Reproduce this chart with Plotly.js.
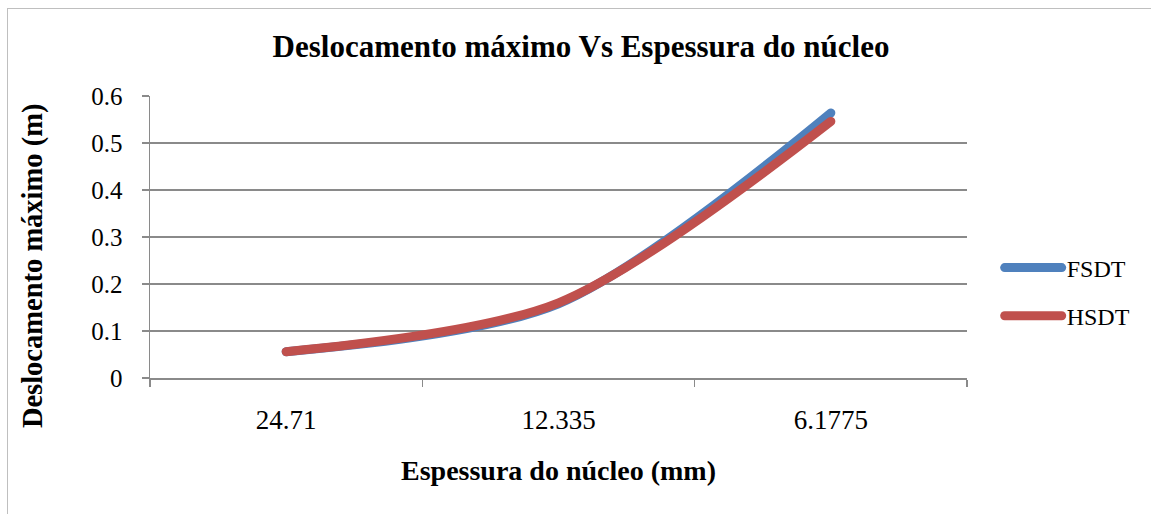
<!DOCTYPE html>
<html>
<head>
<meta charset="utf-8">
<script src="https://cdn.plot.ly/plotly-3.0.1.min.js"></script>
<style>
  html, body { margin: 0; padding: 0; background: #fff; }
  #wrap { position: relative; width: 1151px; height: 514px; overflow: hidden; }
  #chart { width: 1151px; height: 514px; }
  #frame { position: absolute; left: 7px; top: 8px; width: 1300px; height: 700px;
           border: 1px solid #bfbfbf; pointer-events: none; }
  .scatterlayer path.js-line, .legend path.js-line { stroke-linecap: round; stroke-linejoin: round; }
</style>
</head>
<body>
<div id="wrap">
  <div id="chart"></div>
  <div id="frame"></div>
</div>
<script>
const categories = ["24.71", "12.335", "6.1775"];
const fsdt = [0.056, 0.158, 0.564];
const hsdt = [0.056, 0.160, 0.546];
const yTicks = [0, 0.1, 0.2, 0.3, 0.4, 0.5, 0.6];

const serif = "Liberation Serif, Times New Roman, serif";
const gridColor = "#8a8a8a";

const traces = [
  { x: categories, y: fsdt, name: "FSDT", type: "scatter", mode: "lines",
    line: { color: "#4F81BD", width: 9, shape: "spline", smoothing: 0.85 },
    legendgroup: "a", hoverinfo: "x+y+name" },
  { x: categories, y: hsdt, name: "HSDT", type: "scatter", mode: "lines",
    line: { color: "#C0504D", width: 9, shape: "spline", smoothing: 0.85 },
    legendgroup: "b", hoverinfo: "x+y+name" }
];

const layout = {
  width: 1151, height: 514,
  margin: { l: 150, r: 184, t: 96, b: 136, pad: 0 },
  paper_bgcolor: "#ffffff", plot_bgcolor: "#ffffff",
  title: { text: "<b>Deslocamento máximo Vs Espessura do núcleo</b>",
           font: { family: serif, size: 31, color: "#000" },
           x: 581 / 1151, xanchor: "center", y: 1 - 46 / 514, yanchor: "middle" },
  showlegend: true,
  legend: { x: 1.04, xanchor: "left", y: 0.305, yanchor: "middle",
            font: { family: serif, size: 24, color: "#000" },
            itemwidth: 57,
            traceorder: "grouped", tracegroupgap: 14, borderwidth: 0, bgcolor: "rgba(0,0,0,0)" },
  xaxis: {
    type: "category", range: [-0.5, 2.5], fixedrange: true,
    showgrid: false, zeroline: false,
    showline: true, linecolor: gridColor, linewidth: 1.5,
    ticks: "outside", tickson: "boundaries", ticklen: 7, tickcolor: gridColor, tickwidth: 1.5,
    tickfont: { family: serif, size: 27, color: "#000" },
    ticklabelstandoff: 17,
    automargin: false
  },
  yaxis: {
    range: [0, 0.6], tickvals: yTicks, ticktext: yTicks.map(String), fixedrange: true,
    showgrid: true, gridcolor: gridColor, gridwidth: 1.5,
    zeroline: false,
    showline: true, linecolor: gridColor, linewidth: 1.5,
    ticks: "outside", ticklen: 7, tickcolor: gridColor, tickwidth: 1.5,
    tickfont: { family: serif, size: 25, color: "#000" },
    ticklabelstandoff: 14,
    automargin: false
  },
  annotations: [
    { text: "<b>Espessura do núcleo (mm)</b>", xref: "paper", yref: "paper",
      x: 0.5, xanchor: "center", y: (378 - 471) / 282.3, yanchor: "middle",
      showarrow: false, font: { family: serif, size: 28, color: "#000" } },
    { text: "<b>Deslocamento máximo (m)</b>", xref: "paper", yref: "paper",
      x: (33 - 150) / 817, xanchor: "center", y: (378 - 266) / 282.3, yanchor: "middle",
      textangle: -90, showarrow: false, font: { family: serif, size: 28.5, color: "#000" } }
  ]
};

Plotly.newPlot("chart", traces, layout, { displayModeBar: false, staticPlot: true });
</script>
</body>
</html>
